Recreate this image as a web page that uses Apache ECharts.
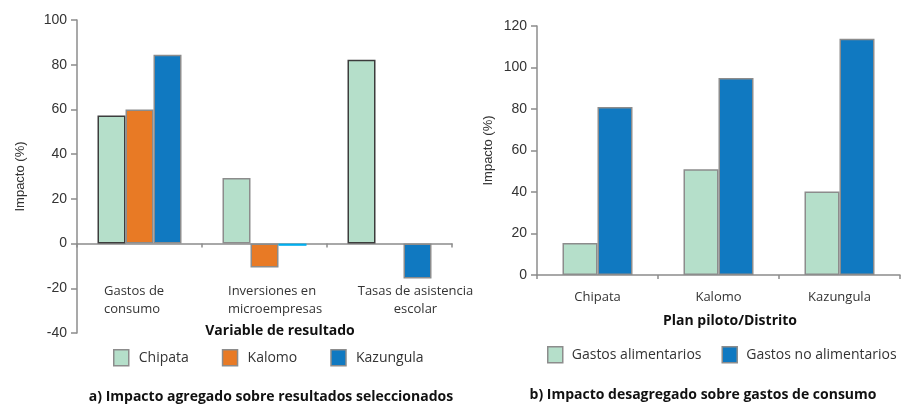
<!DOCTYPE html>
<html>
<head>
<meta charset="utf-8">
<script src="https://cdn.jsdelivr.net/npm/echarts@6/dist/echarts.min.js"></script>
<style>
html,body{margin:0;padding:0;background:#fff;}
#chart{width:904px;height:408px;}
</style>
</head>
<body>
<div id="chart"></div>
<script>
// ---- Data: panel a ----
const catsA = ['Gastos de\nconsumo', 'Inversiones en\nmicroempresas', 'Tasas de asistencia\nescolar'];
const chipataA = [57.3, 29.3, 82.2];
const kalomoA = [60, -10.7, null];
const kazungulaA = [84.5, -1, -15.6];
const ticksA = [-40, -20, 0, 20, 40, 60, 80, 100];

// ---- Data: panel b ----
const catsB = ['Chipata', 'Kalomo', 'Kazungula'];
const alimentarios = [15.4, 51, 40.2];
const noAlimentarios = [81, 95, 113.9];
const ticksB = [0, 20, 40, 60, 80, 100, 120];

const GREEN = '#b5dfca', ORANGE = '#e87a25', BLUE = '#1079c1', CYAN = '#00aeef';
const GRAY = '#8c8c8c', DARK = '#3c3c3c', AXIS = '#8c8c8c';
const SANS = '"Open Sans", "Noto Sans", sans-serif';
const ARIAL = '"Liberation Sans", Arial, sans-serif';

const chart = echarts.init(document.getElementById('chart'));

const chipataData = chipataA.map((v, i) => ({
  value: v,
  itemStyle: { borderColor: i === 1 ? GRAY : DARK }
}));
const kalomoData = kalomoA.map(v => (v === null ? '-' : v));
const kazData = kazungulaA.map((v, i) => (i === 1
  ? { value: v, itemStyle: { color: CYAN, borderWidth: 0 } }
  : v));

// label styling per category (first two are left-aligned blocks, last centred)
const richKeys = ['g', 'i', 'c'];
const labelPads = [[0, 9, 0, 0], [0, 0, 0, 21], [0, 0, 0, 52]];

function yAxisCommon(ticks, gap) {
  return {
    type: 'value',
    min: ticks[0],
    max: ticks[ticks.length - 1],
    interval: 20,
    name: 'Impacto (%)',
    nameLocation: 'middle',
    nameGap: gap,
    nameRotate: 90,
    nameTextStyle: { fontFamily: ARIAL, fontSize: 13, color: '#333' },
    axisLine: { show: true, lineStyle: { color: AXIS, width: 1.5 } },
    axisTick: { show: true, length: 6, lineStyle: { color: AXIS, width: 1.5 } },
    axisLabel: { fontFamily: ARIAL, fontSize: 14, color: '#333', margin: 10 },
    splitLine: { show: false }
  };
}

const richBase = { fontFamily: SANS, fontSize: 13, color: '#333', lineHeight: 18 };

chart.setOption({
  animation: false,
  backgroundColor: '#fff',
  grid: [
    { left: 77, right: 452, top: 20, bottom: 75 },
    { left: 537, right: 4, top: 26, bottom: 133 }
  ],
  xAxis: [
    {
      gridIndex: 0,
      type: 'category',
      data: catsA.map((c, i) => ({ value: c, textStyle: { padding: labelPads[i] } })),
      axisLine: { onZero: true, lineStyle: { color: AXIS, width: 1.5 } },
      axisTick: { show: true, length: 4, lineStyle: { color: AXIS, width: 1.5 } },
      axisLabel: {
        fontFamily: SANS, fontSize: 13, color: '#333', margin: -51, lineHeight: 18, interval: 0,
        formatter: (value, index) => value.split('\n').map(l => '{' + richKeys[index] + '|' + l + '}').join('\n'),
        rich: {
          g: Object.assign({ width: 62, align: 'left' }, richBase),
          i: Object.assign({ width: 94, align: 'left' }, richBase),
          c: Object.assign({ align: 'center' }, richBase)
        }
      }
    },
    {
      gridIndex: 1,
      type: 'category',
      data: catsB,
      axisLine: { lineStyle: { color: AXIS, width: 1.5 } },
      axisTick: { show: true, length: 4, lineStyle: { color: AXIS, width: 1.5 } },
      axisLabel: { fontFamily: SANS, fontSize: 13, color: '#333', margin: 16, interval: 0 }
    }
  ],
  yAxis: [
    Object.assign(yAxisCommon(ticksA, 50), { gridIndex: 0 }),
    Object.assign(yAxisCommon(ticksB, 42), { gridIndex: 1 })
  ],
  legend: [
    {
      data: ['Chipata', 'Kalomo', 'Kazungula'],
      left: 113, top: 349, padding: 0, width: 400,
      icon: 'rect', itemWidth: 15, itemHeight: 16, itemGap: 33,
      itemStyle: { borderColor: GRAY, borderWidth: 1.5 },
      textStyle: { fontFamily: SANS, fontSize: 14, color: '#333', padding: [0, 0, 0, 5] }
    },
    {
      data: ['Gastos alimentarios', 'Gastos no alimentarios'],
      left: 547, top: 346, padding: 0, width: 400,
      icon: 'rect', itemWidth: 15, itemHeight: 16, itemGap: 20,
      itemStyle: { borderColor: GRAY, borderWidth: 1.5 },
      textStyle: { fontFamily: SANS, fontSize: 14, color: '#333', padding: [0, 0, 0, 4] }
    }
  ],
  series: [
    { name: 'Chipata', type: 'bar', xAxisIndex: 0, yAxisIndex: 0, data: chipataData,
      barWidth: 28, barGap: '0%', itemStyle: { color: GREEN, borderColor: GRAY, borderWidth: 1.5 } },
    { name: 'Kalomo', type: 'bar', xAxisIndex: 0, yAxisIndex: 0, data: kalomoData,
      barWidth: 28, barGap: '0%', itemStyle: { color: ORANGE, borderColor: GRAY, borderWidth: 1.5 } },
    { name: 'Kazungula', type: 'bar', xAxisIndex: 0, yAxisIndex: 0, data: kazData,
      barWidth: 28, barGap: '0%', itemStyle: { color: BLUE, borderColor: GRAY, borderWidth: 1.5 } },
    { name: 'Gastos alimentarios', type: 'bar', xAxisIndex: 1, yAxisIndex: 1, data: alimentarios,
      barWidth: 35, barGap: '0%', itemStyle: { color: GREEN, borderColor: GRAY, borderWidth: 1.5 } },
    { name: 'Gastos no alimentarios', type: 'bar', xAxisIndex: 1, yAxisIndex: 1, data: noAlimentarios,
      barWidth: 35, barGap: '0%', itemStyle: { color: BLUE, borderColor: GRAY, borderWidth: 1.5 } }
  ],
  graphic: [
    { type: 'text', style: { x: 280, y: 331, text: 'Variable de resultado', textAlign: 'center', textVerticalAlign: 'middle',
      font: 'bold 14px "Open Sans", sans-serif', fill: '#111' } },
    { type: 'text', style: { x: 730, y: 321, text: 'Plan piloto/Distrito', textAlign: 'center', textVerticalAlign: 'middle',
      font: 'bold 14px "Open Sans", sans-serif', fill: '#111' } },
    { type: 'text', style: { x: 271, y: 397, text: 'a) Impacto agregado sobre resultados seleccionados', textAlign: 'center', textVerticalAlign: 'middle',
      font: 'bold 14px "Open Sans", sans-serif', fill: '#111' } },
    { type: 'text', style: { x: 703, y: 395, text: 'b) Impacto desagregado sobre gastos de consumo', textAlign: 'center', textVerticalAlign: 'middle',
      font: 'bold 14px "Open Sans", sans-serif', fill: '#111' } }
  ]
});
</script>
</body>
</html>
